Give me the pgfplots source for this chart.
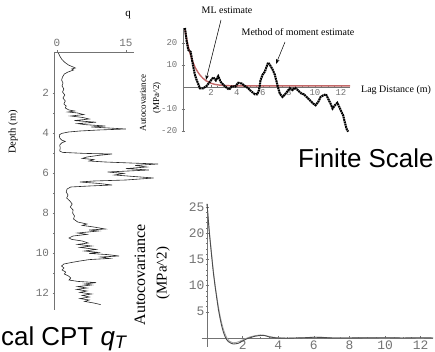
\documentclass[border=0pt]{standalone}
\usepackage{pgfplots}
\pgfplotsset{compat=1.18}
\usetikzlibrary{arrows.meta}
\usepackage{fontspec}
\setmainfont{Liberation Serif}
\newfontfamily\monofont{Liberation Mono}
\newfontfamily\sansfont{Liberation Sans}
\definecolor{axgray}{gray}{0.45}
\definecolor{mlred}{RGB}{195,105,105}
\begin{document}
\begin{tikzpicture}
\useasboundingbox (0,0) rectangle (435bp,352bp);
\clip (0,0) rectangle (435bp,352bp);
% ---------------- left: CPT profile
\begin{axis}[scale only axis, width=79.8bp, height=258bp, at={(54bp,42bp)}, anchor=south west,
  xmin=-0.65, xmax=16.7, ymin=-0.05, ymax=12.85, y dir=reverse,
  axis x line=top, axis y line=left, axis line style={-, draw=axgray, line width=0.6bp},
  xtick={0,15}, xticklabels={0,15}, ytick={2,4,6,8,10,12}, yticklabels={2,4,6,8,10,12},
  minor y tick num=1,
  tick style={draw=axgray, line width=0.5bp}, major tick length=3bp, minor tick length=1.5bp,
  tick label style={font=\monofont\fontsize{11}{11}\selectfont, text=axgray},
  clip=false]
\addplot[black!85, line width=0.6bp] coordinates {
(0.3,0.0) (0.6,0.15) (1.0,0.3) (1.6,0.45) (2.5,0.6) (3.3,0.68) (4.0,0.75) (3.2,0.8) (3.6,0.85) (2.4,0.95) (1.6,1.05) (1.2,1.2) (1.0,1.35) (1.3,1.5) (1.1,1.65) (1.5,1.8) (1.2,1.95) (1.7,2.1) (1.3,2.25) (1.8,2.4) (1.5,2.55) (2.0,2.65) (1.8,2.75) (2.6,2.85) (3.8,2.9) (2.4,2.95) (4.5,3.0) (5.8,3.08) (3.0,3.15) (5.5,3.22) (7.0,3.3) (3.8,3.38) (8.5,3.46) (4.5,3.53) (6.0,3.58) (10.5,3.65) (7.5,3.7) (15.0,3.8) (9.0,3.85) (5.0,3.9) (2.5,3.95) (1.0,4.02) (0.5,4.1) (0.6,4.25) (1.0,4.35) (1.8,4.42) (1.0,4.5) (0.6,4.6) (0.7,4.75) (0.6,4.9) (1.2,4.97) (6.0,5.02) (12.0,5.05) (9.0,5.12) (6.5,5.2) (5.5,5.27) (8.0,5.33) (7.0,5.4) (10.5,5.45) (16.0,5.5) (22.0,5.55) (17.0,5.62) (19.5,5.7) (15.0,5.78) (20.0,5.85) (11.0,5.95) (14.5,6.02) (12.5,6.1) (17.0,6.18) (21.0,6.25) (15.0,6.35) (8.0,6.4) (5.0,6.45) (9.0,6.52) (12.0,6.6) (7.0,6.65) (3.0,6.7) (2.2,6.8) (2.0,6.95) (2.4,7.1) (2.1,7.25) (2.8,7.4) (3.3,7.55) (2.9,7.7) (3.5,7.85) (3.4,8.0) (3.8,8.15) (3.6,8.3) (4.5,8.45) (6.5,8.55) (5.5,8.62) (8.0,8.7) (10.5,8.8) (7.0,8.85) (9.0,8.9) (4.5,9.0) (6.5,9.07) (3.5,9.15) (2.6,9.25) (3.2,9.32) (5.5,9.4) (6.8,9.5) (4.5,9.57) (7.5,9.65) (5.0,9.72) (8.5,9.82) (6.0,9.9) (9.0,9.97) (7.0,10.02) (11.0,10.08) (13.5,10.15) (9.5,10.2) (11.5,10.27) (7.0,10.33) (5.0,10.4) (3.0,10.48) (1.5,10.55) (1.0,10.65) (1.5,10.75) (1.1,10.85) (1.9,10.95) (1.6,11.05) (2.5,11.15) (3.0,11.25) (2.6,11.35) (4.5,11.42) (8.5,11.48) (6.0,11.55) (7.5,11.6) (4.5,11.68) (6.5,11.75) (4.3,11.82) (6.5,11.9) (5.0,11.97) (7.5,12.05) (5.5,12.12) (7.0,12.2) (5.0,12.28) (7.0,12.35) (6.0,12.42) (8.0,12.5) (9.5,12.58)
};
\end{axis}
\node[rotate=90, font=\fontsize{10.5}{10.5}\selectfont] at (13bp,220bp) {Depth (m)};
\node[font=\fontsize{11}{11}\selectfont] at (128bp,337bp) {q};
% ---------------- upper right: sample autocovariance
\begin{axis}[scale only axis, width=167bp, height=104.5bp, at={(183bp,219.9bp)}, anchor=south west,
  xmin=-0.15, xmax=12.7, ymin=-20.5, ymax=27,
  axis x line=middle, axis y line=left, axis line style={-, draw=axgray, line width=0.6bp},
  xtick={2,4,6,8,10,12}, xticklabels={2,4,6,8,10,12},
  ytick={-20,-10,10,20}, yticklabels={-20,-10,10,20},
  minor x tick num=3, minor y tick num=4,
  tick style={draw=axgray, line width=0.5bp}, major tick length=3bp, minor tick length=1.5bp,
  tick label style={font=\monofont\fontsize{9}{9}\selectfont, text=axgray, inner sep=1bp},
  yticklabel style={xshift=-3bp},
  clip=false]
\addplot[mlred, line width=1.4bp] coordinates {
(0,26) (0.2,19.8) (0.4,15.1) (0.6,11.5) (0.8,8.7) (1.0,6.7) (1.2,5.1) (1.4,3.9) (1.6,2.9) (1.8,2.3) (2.0,1.7) (2.3,1.2) (2.6,0.9) (3.0,0.7) (3.5,0.55) (4.0,0.5) (12.7,0.5)
};
\addplot[black, line width=2.1bp, dash pattern=on 1.8bp off 0.6bp] coordinates {
(0,26.8) (0.13,21) (0.26,16.8) (0.35,16.3) (0.44,16) (0.54,12.5) (0.64,9.2) (0.77,5.5) (0.88,3.5) (1.0,1.7) (1.15,-0.6) (1.4,-0.6) (1.67,0.5) (1.92,2.4) (2.18,4.4) (2.38,3) (2.56,4.9) (2.74,2.4) (2.95,1) (3.2,-0.3) (3.4,-1.2) (3.6,0.3) (3.87,0.2) (4.1,1.9) (4.36,1.6) (4.6,0.5) (4.87,-0.6) (5.13,-2.1) (5.38,-3.3) (5.56,-3.3) (5.7,-1.4) (5.82,3.2) (5.97,5.5) (6.15,7) (6.28,9.2) (6.4,11.1) (6.54,10) (6.74,8) (6.92,5.5) (7.05,2.4) (7.18,-0.6) (7.3,-3) (7.5,-4.5) (7.7,-3.3) (7.87,-2.1) (8.08,-0.6) (8.28,-1.4) (8.46,-0.3) (8.64,-1.2) (8.8,-2.1) (8.97,-3) (9.15,-3.3) (9.36,-4.5) (9.6,-6) (9.87,-7.5) (10.05,-8.3) (10.26,-6.7) (10.44,-4.5) (10.64,-3.8) (10.85,-3.3) (11.0,-5.1) (11.2,-7.5) (11.36,-9.8) (11.54,-8.3) (11.72,-7.2) (11.87,-9) (12.05,-11.4) (12.18,-13) (12.3,-16) (12.44,-19.1) (12.56,-20.3)
};
\end{axis}
\node[font=\fontsize{10}{10}\selectfont] at (227bp,342bp) {ML estimate};
\node[font=\fontsize{10}{10}\selectfont] at (298bp,320bp) {Method of moment estimate};
\node[font=\fontsize{10}{10}\selectfont, anchor=west, inner sep=0] at (361bp,262bp) {Lag Distance (m)};
\draw[-{Stealth[length=5bp,width=3.5bp]}, line width=0.5bp] (221bp,332bp) -- (206bp,272bp);
\draw[-{Stealth[length=5bp,width=3.5bp]}, line width=0.5bp] (285bp,310bp) -- (276bp,288bp);
\node[rotate=90, font=\fontsize{9}{9}\selectfont] at (143bp,249bp) {Autocovariance};
\node[rotate=90, font=\fontsize{9}{9}\selectfont] at (157bp,254bp) {(MPa\^{}2)};
% ---------------- lower right: model autocovariance
\begin{axis}[scale only axis, width=231.4bp, height=143.1bp, at={(201.7bp,5.1bp)}, anchor=south west,
  xmin=-0.3, xmax=12.7, ymin=-1.7, ymax=25.6,
  axis lines=middle, axis line style={-, draw=axgray, line width=0.6bp},
  xtick={2,4,6,8,10,12}, xticklabels={2,4,6,8,10,12},
  ytick={5,10,15,20,25}, yticklabels={5,10,15,20,25},
  minor x tick num=3, minor y tick num=4,
  tick style={draw=axgray, line width=0.5bp}, major tick length=3bp, minor tick length=1.5bp,
  tick label style={font=\monofont\fontsize{13}{13}\selectfont, text=axgray, inner sep=1bp},
  clip=false]
\addplot[gray!70, line width=0.8bp] coordinates {
(0,25.6) (0.1,21.5) (0.2,18) (0.3,14.5) (0.4,11.5) (0.5,9) (0.6,6.8) (0.7,4.8) (0.8,3.2) (0.9,1.9) (1.0,0.9) (1.1,0.1) (1.25,-0.6) (1.45,-0.9) (1.65,-0.85) (1.85,-0.6) (2.1,-0.2) (2.4,0.2) (2.7,0.45) (3.0,0.6) (3.3,0.45) (3.7,0.15) (4.2,0) (5,0) (5.8,0.1) (6.3,0.15) (7,0.05) (12.7,0)
};
\addplot[black!70, line width=0.9bp] coordinates {
(0,25.6) (0.06,23) (0.13,20) (0.2,17.6) (0.26,15.6) (0.35,12.6) (0.45,9.9) (0.55,7.5) (0.64,5.4) (0.74,3.6) (0.83,2.2) (0.92,1.1) (1.01,0.3) (1.1,-0.3) (1.2,-0.7) (1.35,-1.0) (1.48,-1.15) (1.62,-1.1) (1.76,-1.0) (1.9,-0.75) (2.04,-0.5) (2.2,-0.2) (2.4,0.05) (2.65,0.3) (2.9,0.45) (3.2,0.5) (3.5,0.2) (3.9,0) (4.5,-0.05) (5.0,0) (5.5,0.05) (6.0,0.15) (6.5,0.1) (7.0,0) (8,0) (9,0.05) (10,0.05) (11,0) (12,0.05) (12.7,0)
};
\end{axis}
\node[rotate=90, font=\fontsize{16}{16}\selectfont] at (140bp,77bp) {Autocovariance};
\node[rotate=90, font=\fontsize{15}{15}\selectfont] at (163bp,79bp) {(MPa\^{}2)};
% ---------------- slide text
\node[font=\sansfont\fontsize{26}{26}\selectfont, anchor=base west, inner sep=0] at (298bp,184bp) {Finite Scale};
\node[font=\sansfont\fontsize{26}{26}\selectfont, anchor=base west, inner sep=0] at (1bp,7bp) {cal CPT \textit{q}\textsubscript{\textit{T}}};
\end{tikzpicture}
\end{document}
